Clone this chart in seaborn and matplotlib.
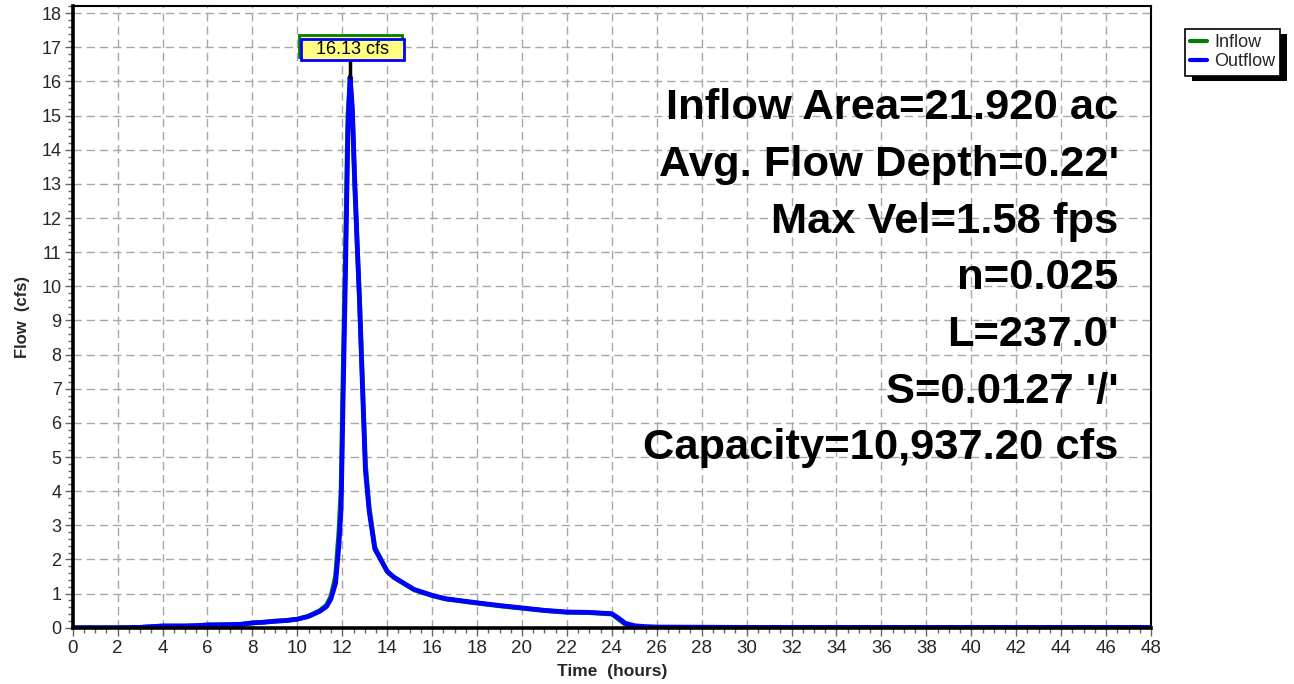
import numpy as np
import pandas as pd
import matplotlib
matplotlib.use("Agg")
import matplotlib.pyplot as plt
from matplotlib.patches import Rectangle
from matplotlib.ticker import MultipleLocator
import seaborn as sns

# hydrograph (hours, cfs)
hours = [0, 1, 2, 3, 3.5, 4, 5, 5.5, 6, 7, 7.5, 8, 8.5, 9, 9.5, 10, 10.5, 11, 11.3,
         11.5, 11.7, 11.85, 11.95, 12.04, 12.14, 12.25, 12.35, 12.45, 12.55, 12.65,
         12.77, 12.89, 13.03, 13.2, 13.45, 14, 14.3, 15.2, 16, 16.6, 18, 19, 20, 21,
         22, 23, 24, 24.3, 24.6, 25, 25.5, 26, 30, 48]
inflow = [0, 0, 0, 0.01, 0.03, 0.05, 0.05, 0.06, 0.08, 0.09, 0.1, 0.14, 0.16, 0.19,
          0.21, 0.25, 0.34, 0.5, 0.66, 0.92, 1.5, 2.8, 4.1, 7.6, 11.0, 15.0, 16.13,
          15.0, 13.0, 11.4, 9.6, 7.4, 4.8, 3.5, 2.35, 1.65, 1.47, 1.11, 0.94, 0.84,
          0.72, 0.64, 0.57, 0.5, 0.45, 0.44, 0.4, 0.25, 0.1, 0.04, 0.02, 0.01, 0.0, 0.0]
outflow = [0, 0, 0, 0.01, 0.03, 0.05, 0.05, 0.06, 0.08, 0.09, 0.1, 0.14, 0.16, 0.19,
           0.21, 0.25, 0.33, 0.48, 0.62, 0.85, 1.3, 2.4, 3.5, 6.8, 10.2, 14.5, 16.13,
           15.2, 13.2, 11.5, 9.5, 7.2, 4.6, 3.4, 2.3, 1.65, 1.48, 1.12, 0.95, 0.85,
           0.73, 0.65, 0.58, 0.51, 0.46, 0.45, 0.41, 0.28, 0.13, 0.06, 0.03, 0.02, 0.01, 0.01]
peak_time = 12.35
peak_flow = 16.13

info_lines = ["Inflow Area=21.920 ac", "Avg. Flow Depth=0.22'", "Max Vel=1.58 fps",
              "n=0.025", "L=237.0'", "S=0.0127 '/'", "Capacity=10,937.20 cfs"]

df = pd.concat([
    pd.DataFrame({"hours": hours, "flow": inflow, "series": "Inflow"}),
    pd.DataFrame({"hours": hours, "flow": outflow, "series": "Outflow"}),
])

sns.set_style("white")
plt.rcParams["font.family"] = ["Liberation Sans", "DejaVu Sans"]

fig = plt.figure(figsize=(12.94, 6.84), dpi=100)
ax = fig.add_axes([72.7 / 1294, 1 - 627.7 / 684, (1151 - 72.7) / 1294, (627.7 - 5.7) / 684])

sns.lineplot(data=df, x="hours", y="flow", hue="series", hue_order=["Inflow", "Outflow"],
             palette={"Inflow": "#008000", "Outflow": "#0000ff"}, estimator=None, sort=False,
             linewidth=3.4, ax=ax)

ax.set_xlim(0, 48)
ax.set_ylim(0, 18.22)
ax.xaxis.set_major_locator(MultipleLocator(2))
ax.xaxis.set_minor_locator(MultipleLocator(0.5))
ax.yaxis.set_major_locator(MultipleLocator(1))
ax.yaxis.set_minor_locator(MultipleLocator(0.2))
ax.grid(True, which="major", color="#a8a8a8", lw=1, ls=(0, (6, 3.5)))
ax.set_axisbelow(True)
ax.tick_params(axis="both", which="major", direction="out", length=6, width=1, color="#666666")
ax.tick_params(axis="both", which="minor", direction="out", length=3.5, width=1, color="#666666")
ax.tick_params(axis="x", labelsize=13.5, pad=3)
ax.tick_params(axis="y", labelsize=13, pad=2)
ax.tick_params(axis="both", which="both", left=True, bottom=True)

for side, lw in [("left", 2.6), ("bottom", 2.6), ("top", 1.5), ("right", 1.5)]:
    ax.spines[side].set_visible(True)
    ax.spines[side].set_color("black")
    ax.spines[side].set_linewidth(lw)

ax.set_xlabel("Time  (hours)", fontsize=12.5, fontweight="bold", labelpad=5)
ax.set_ylabel("Flow  (cfs)", fontsize=12, fontweight="bold", labelpad=8)

# parameter block
y0, step = 14.89, 1.66
for i, line in enumerate(info_lines):
    ax.text(0.970, y0 - i * step, line, transform=ax.get_yaxis_transform(), ha="right",
            va="baseline", fontsize=31.3, fontweight="bold", color="black")

# peak label: green box behind, yellow box with blue border on top
ax.plot([peak_time, peak_time], [peak_flow, 16.7], color="black", lw=2.5, zorder=4)
ax.add_patch(Rectangle((10.06, 16.72), 4.58, 0.64, fc="#ffff80", ec="#008000", lw=2, zorder=5))
ax.add_patch(Rectangle((10.15, 16.63), 4.58, 0.62, fc="#ffff80", ec="#0000ff", lw=2, zorder=6))
ax.text(12.44, 16.94, f"{peak_flow:.2f} cfs", ha="center", va="center", fontsize=13,
        color="black", zorder=7)

# legend outside, with a solid black drop shadow
handles, labels = ax.get_legend_handles_labels()
ax.get_legend().remove()
leg = fig.legend(handles, labels, loc="upper left", bbox_to_anchor=(1185 / 1294, 1 - 29 / 684),
                 fontsize=13, frameon=True, fancybox=False, edgecolor="black",
                 facecolor="white", framealpha=1,
                 handlelength=0.9, handletextpad=0.4, borderpad=0.3, labelspacing=0.1,
                 borderaxespad=0)
leg.get_frame().set_linewidth(1.2)
leg.set_zorder(10)
for h in leg.legend_handles:
    h.set_linewidth(3)
fig.canvas.draw()
bb = leg.get_window_extent().transformed(fig.transFigure.inverted())
fig.patches.append(Rectangle((bb.x0 + 7 / 1294, bb.y0 - 5 / 684), bb.width, bb.height,
                             transform=fig.transFigure, facecolor="black", edgecolor="none",
                             zorder=1, figure=fig))

fig.savefig("out.png", dpi=100)
